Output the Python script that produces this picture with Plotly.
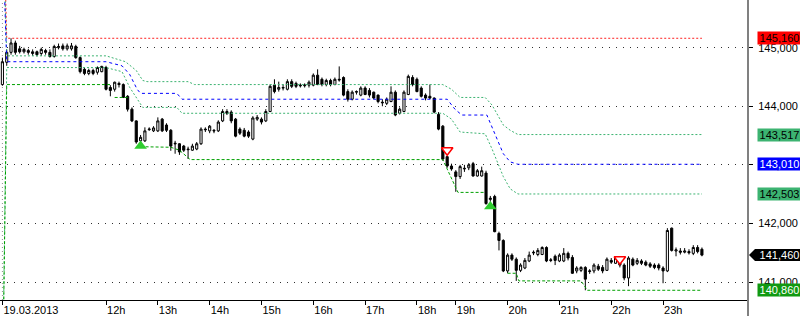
import plotly.graph_objects as go

# ---- candle data (5-minute bars, 19.03.2013) ----
opens = [144.37,144.75,144.92,145.08,144.98,144.93,144.95,144.90,144.93,144.90,144.95,144.92,144.85,145.00,145.03,144.98,144.98,145.02,144.83,144.63,
         144.56,144.61,144.58,144.59,144.66,144.32,144.29,144.39,144.37,144.17,143.95,143.75,143.41,143.41,143.60,143.58,143.58,143.78,143.68,143.59,
         143.37,143.36,143.32,143.27,143.25,143.27,143.36,143.61,143.58,143.59,143.58,143.75,143.91,143.90,143.78,143.61,143.59,143.56,143.44,143.78,
         143.78,143.75,143.91,144.36,144.29,144.31,144.29,144.42,144.39,144.36,144.35,144.36,144.36,144.53,144.46,144.37,144.44,144.37,144.46,144.49,
         144.25,144.12,144.24,144.19,144.31,144.27,144.24,144.19,144.07,144.05,144.08,144.24,143.88,143.91,144.20,144.49,144.46,144.31,144.19,144.17,
         144.14,143.86,143.66,143.14,142.98,142.88,142.80,142.93,142.95,143.02,142.81,142.81,142.86,142.41,142.46,141.83,141.71,141.19,141.46,141.39,
         141.20,141.24,141.36,141.51,141.47,141.47,141.59,141.38,141.44,141.36,141.36,141.49,141.42,141.19,141.20,141.25,141.18,141.19,141.27,141.25,
         141.20,141.37,141.32,141.37,141.29,141.07,141.39,141.32,141.36,141.34,141.31,141.29,141.29,141.24,141.19,141.92,141.53,141.53,141.51,141.52,
         141.49,141.59,141.56]
highs = [144.83,144.97,145.16,145.12,145.03,145.00,144.98,144.97,144.95,145.00,144.98,144.97,145.05,145.07,145.07,145.07,145.08,145.05,144.85,144.66,
         144.64,144.64,144.68,144.69,144.69,144.36,144.42,144.42,144.39,144.19,143.98,143.76,143.51,143.64,143.64,143.66,143.81,143.80,143.71,143.61,
         143.41,143.37,143.34,143.31,143.36,143.39,143.64,143.64,143.68,143.61,143.76,143.95,143.95,143.93,143.80,143.64,143.63,143.59,143.83,143.85,
         143.81,143.95,144.37,144.46,144.42,144.37,144.46,144.46,144.42,144.39,144.39,144.44,144.56,144.63,144.49,144.47,144.47,144.49,144.68,144.51,
         144.29,144.27,144.27,144.34,144.34,144.31,144.25,144.20,144.12,144.15,144.34,144.27,143.98,144.27,144.54,144.53,144.49,144.34,144.22,144.37,
         144.15,143.90,143.68,143.15,143.02,142.91,143.00,143.00,143.03,143.05,142.93,142.97,142.90,142.47,142.49,141.86,141.73,141.49,141.49,141.42,
         141.32,141.41,141.52,141.54,141.58,141.61,141.61,141.41,141.47,141.49,141.58,141.52,141.46,141.27,141.27,141.27,141.22,141.32,141.31,141.29,
         141.42,141.41,141.44,141.41,141.32,141.44,141.42,141.41,141.39,141.37,141.34,141.32,141.32,141.27,141.92,141.93,141.59,141.58,141.58,141.56,
         141.63,141.63,141.59]
lows = [144.35,144.69,144.88,144.88,144.90,144.90,144.88,144.86,144.85,144.86,144.88,144.83,144.83,144.97,144.95,144.95,144.95,144.81,144.56,144.53,
        144.53,144.53,144.54,144.58,144.27,144.17,144.25,144.32,144.14,143.91,143.73,143.36,143.37,143.39,143.58,143.56,143.56,143.56,143.56,143.24,
        143.19,143.17,143.22,143.10,143.24,143.25,143.34,143.56,143.54,143.54,143.56,143.73,143.85,143.71,143.47,143.51,143.47,143.46,143.42,143.75,
        143.69,143.73,143.90,144.22,144.25,144.27,144.27,144.31,144.31,144.32,144.32,144.32,144.34,144.36,144.34,144.34,144.34,144.36,144.42,144.17,
        144.08,144.10,144.20,144.17,144.19,144.15,144.12,144.05,144.00,144.02,144.07,143.83,143.86,143.90,144.19,144.34,144.24,144.15,144.10,144.12,
        143.88,143.59,143.07,142.95,142.90,142.54,142.76,142.88,142.91,142.80,142.80,142.80,142.32,142.37,141.85,141.54,141.17,141.15,141.36,141.02,
        141.17,141.22,141.34,141.46,141.44,141.46,141.34,141.34,141.29,141.34,141.34,141.37,141.14,141.15,141.17,140.86,141.14,141.15,141.19,141.15,
        141.19,141.31,141.31,141.25,141.03,140.93,141.27,141.29,141.29,141.27,141.24,141.22,141.20,140.98,141.17,141.52,141.44,141.47,141.49,141.47,
        141.46,141.49,141.44]
closes = [144.76,144.92,145.08,144.92,144.93,144.97,144.92,144.93,144.88,144.97,144.92,144.85,145.02,145.02,144.98,145.03,145.03,144.83,144.59,144.56,
          144.61,144.56,144.66,144.68,144.29,144.27,144.41,144.37,144.15,143.95,143.75,143.39,143.47,143.58,143.61,143.63,143.75,143.58,143.59,143.32,
          143.36,143.22,143.25,143.26,143.32,143.36,143.61,143.60,143.66,143.58,143.73,143.91,143.88,143.75,143.49,143.54,143.49,143.49,143.80,143.81,
          143.73,143.91,144.34,144.25,144.32,144.32,144.42,144.34,144.34,144.35,144.36,144.41,144.53,144.37,144.37,144.44,144.37,144.46,144.45,144.19,
          144.12,144.24,144.25,144.31,144.20,144.19,144.14,144.08,144.06,144.12,144.24,143.85,143.95,144.24,144.51,144.37,144.25,144.17,144.14,144.14,
          143.90,143.61,143.10,142.98,142.93,142.80,142.97,142.94,143.00,142.81,142.90,142.90,142.34,142.43,141.86,141.71,141.19,141.46,141.39,141.20,
          141.29,141.37,141.46,141.50,141.54,141.59,141.36,141.37,141.37,141.46,141.49,141.41,141.15,141.24,141.25,141.05,141.19,141.29,141.22,141.19,
          141.39,141.34,141.41,141.29,141.07,141.41,141.29,141.37,141.32,141.29,141.27,141.25,141.24,141.19,141.88,141.54,141.55,141.51,141.53,141.50,
          141.59,141.52,141.46]
bar_index = list(range(len(closes)))

# ---- tick labels ----
time_tickvals = [0, 24, 36, 48, 60, 72, 84, 96, 105, 117, 129, 141, 153]
time_ticktext = ["19.03.2013", "12h", "13h", "14h", "15h", "16h", "17h", "18h", "19h", "20h", "21h", "22h", "23h"]
price_tickvals = [141, 142, 143, 144, 145]
price_ticktext = ["141,000", "142,000", "143,000", "144,000", "145,000"]

# ---- indicator lines (breakpoints) ----
res_x = [0, 1, 162]
res_y = [148.0, 145.16, 145.16]

upper_x = [0, 1, 24, 28.5, 31, 32.5, 33.5, 43, 44.5, 102, 104, 106, 111.8, 113.4, 116, 117.6, 119.4, 162]
upper_y = [147.5, 144.86, 144.86, 144.76, 144.61, 144.44, 144.42, 144.42, 144.37, 144.37, 144.29, 144.15, 144.15, 144.02, 143.68, 143.59, 143.517, 143.517]

mid_x = [0, 1, 24, 27.7, 29.5, 31.2, 32, 40.4, 41.6, 103, 104.8, 106.4, 112.2, 114, 116, 117.6, 119.4, 162]
mid_y = [147.0, 144.76, 144.76, 144.69, 144.54, 144.29, 144.22, 144.22, 144.12, 144.12, 143.95, 143.85, 143.85, 143.53, 143.19, 143.05, 143.01, 143.01]

lower_x = [0, 1, 24, 27.7, 29.5, 31.2, 32.5, 40.4, 41.6, 102, 104, 106, 111.8, 113.4, 116, 117.6, 119.4, 162]
lower_y = [139.0, 144.66, 144.66, 144.59, 144.32, 144.12, 143.98, 143.98, 143.88, 143.88, 143.78, 143.56, 143.53, 143.27, 142.80, 142.59, 142.503, 142.503]

sup_x = [0, 1, 25, None, 26, 29, None, 32, 39, 41, 43.5, 102, 105.5, 111.5, None, 117, 119, 119.6, 134, 135.5, 162]
sup_y = [139.0, 144.37, 144.37, None, 144.15, 144.15, None, 143.31, 143.30, 143.25, 143.09, 143.09, 142.53, 142.53, None, 141.15, 141.15, 141.02, 141.02, 140.86, 140.86]

buy_x = [32, 113]
buy_y = [143.32, 142.29]
sell_x = [103, 143]
sell_y = [143.25, 141.39]

# ---- right-hand price labels ----
lbl_vals = [145.160, 143.517, 143.010, 142.503, 140.860]
lbl_text = ["145,160", "143,517", "143,010", "142,503", "140,860"]
lbl_bg = ["#ff0000", "#3cb371", "#0000ff", "#3cb371", "#119911"]
lbl_fg = ["#000000", "#000000", "#ffffff", "#000000", "#ffffff"]
last_val = 141.460
last_text = "141,460"

FONT = "Liberation Sans, Arial, sans-serif"

fig = go.Figure()

fig.add_trace(go.Scatter(x=res_x, y=res_y, mode="lines",
                         line=dict(color="#ff2020", width=1, dash="2px,2px"), hoverinfo="skip"))
fig.add_trace(go.Scatter(x=upper_x, y=upper_y, mode="lines",
                         line=dict(color="#3cb371", width=1, dash="2px,2px"), hoverinfo="skip"))
fig.add_trace(go.Scatter(x=lower_x, y=lower_y, mode="lines",
                         line=dict(color="#3cb371", width=1, dash="2px,2px"), hoverinfo="skip"))
fig.add_trace(go.Scatter(x=mid_x, y=mid_y, mode="lines",
                         line=dict(color="#0000ff", width=1, dash="3px,3px"), hoverinfo="skip"))
fig.add_trace(go.Scatter(x=sup_x, y=sup_y, mode="lines", connectgaps=False,
                         line=dict(color="#00a000", width=1, dash="3px,2px"), hoverinfo="skip"))

fig.add_trace(go.Candlestick(
    x=bar_index, open=opens, high=highs, low=lows, close=closes,
    increasing=dict(line=dict(color="black", width=1), fillcolor="white"),
    decreasing=dict(line=dict(color="black", width=1), fillcolor="black"),
    whiskerwidth=0, hoverinfo="skip"))

fig.add_trace(go.Scatter(x=buy_x, y=buy_y, mode="markers",
                         marker=dict(symbol="triangle-up", size=11, color="#2ecc2e", line=dict(width=0))))
fig.add_trace(go.Scatter(x=sell_x, y=sell_y, mode="markers",
                         marker=dict(symbol="triangle-down", size=10, color="white",
                                     line=dict(color="#ff0000", width=1.5))))

shapes = [
    # session start separator
    dict(type="line", xref="x", yref="paper", x0=0, x1=0, y0=0, y1=1,
         line=dict(color="#909090", width=1, dash="1px,3px"), layer="below"),
    # right axis line
    dict(type="line", xref="paper", yref="paper", x0=1, x1=1, y0=-0.06, y1=1,
         line=dict(color="#808080", width=2)),
    # arrow-shaped last price tag
    dict(type="path", xref="paper", yref="y", xsizemode="pixel", ysizemode="pixel",
         xanchor=1, yanchor=last_val,
         path="M1,0 L7,6 L52,6 L52,-6 L7,-6 Z",
         fillcolor="#000000", line=dict(width=0)),
]

annotations = []
for v, t, bg, fg in zip(lbl_vals, lbl_text, lbl_bg, lbl_fg):
    annotations.append(dict(xref="paper", yref="y", x=1, y=v, xanchor="left", yanchor="middle",
                            xshift=9, text=t, showarrow=False, bgcolor=bg, width=43, height=12,
                            borderpad=0, font=dict(family=FONT, size=11, color=fg)))
annotations.append(dict(xref="paper", yref="y", x=1, y=last_val, xanchor="left", yanchor="middle",
                        xshift=9, text=last_text, showarrow=False, width=43, height=12,
                        borderpad=0, font=dict(family=FONT, size=11, color="#ffffff")))

fig.update_layout(
    width=800, height=316,
    margin=dict(l=0, r=52, t=0, b=14),
    paper_bgcolor="white", plot_bgcolor="white",
    showlegend=False,
    font=dict(family=FONT, size=11, color="black"),
    shapes=shapes, annotations=annotations,
    xaxis=dict(range=[-0.556, 172.67], tickvals=time_tickvals, ticktext=time_ticktext,
               ticks="outside", ticklen=4, tickcolor="black", showline=True, linecolor="black",
               linewidth=1, showgrid=False, zeroline=False, ticklabelposition="outside right",
               rangeslider=dict(visible=False), tickfont=dict(family=FONT, size=11, color="black")),
    yaxis=dict(side="right", range=[140.694, 145.813], tickvals=price_tickvals, ticktext=price_ticktext,
               ticks="outside", ticklen=4, tickcolor="black", showline=False, zeroline=False,
               showgrid=True, gridcolor="#303030", griddash="1px,6px", gridwidth=1,
               ticklabelstandoff=3, tickfont=dict(family=FONT, size=11, color="black")),
)

fig.write_html("out.html")
